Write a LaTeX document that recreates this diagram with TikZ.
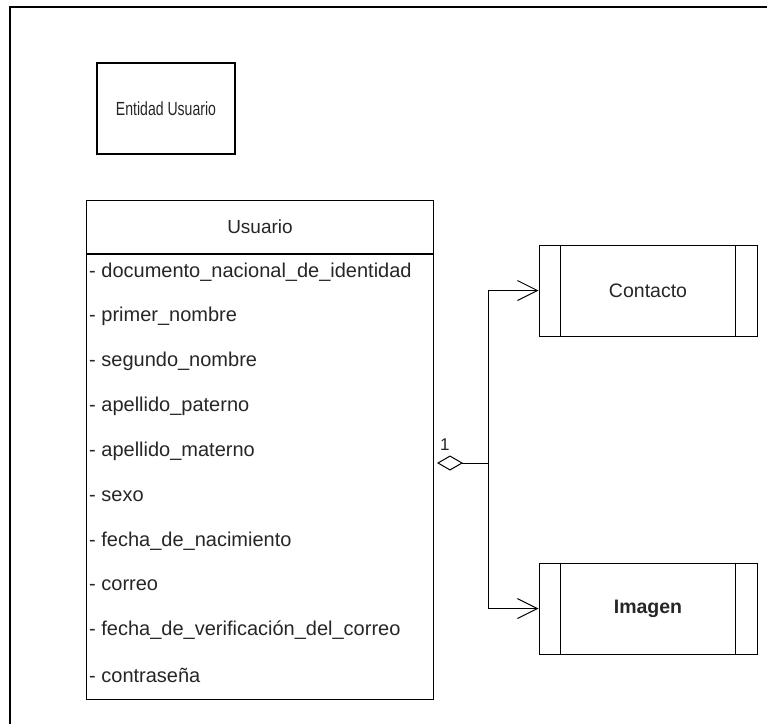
\documentclass[tikz,border=0pt]{standalone}
\usepackage{fontspec}
\setmainfont{Liberation Sans}
\usetikzlibrary{arrows.meta,positioning}

\begin{document}
\begin{tikzpicture}[x=1pt,y=-1pt, text=black!85,
	caja/.style={draw, line width=1pt, inner sep=0pt},
	atributo/.style={anchor=west, inner sep=0pt, font=\fontsize{20}{23}\selectfont},
	agregacion/.style={line width=1pt, {Diamond[open,length=26pt,width=15pt]}-},
	flecha/.style={line width=1pt, -{Straight Barb[length=20pt,width=20pt]}}]

		\useasboundingbox (0,0) rectangle (767,724);

		% marco %
		\draw[line width=1.6pt] (767,7) -- (10,7) -- (10,724);

		% entidad %
		\node[caja, line width=1.2pt, minimum width=138pt, minimum height=91pt,
			font=\fontsize{19}{22}\selectfont] (entidad) at (166,108.5)
			{\scalebox{0.74}[1]{Entidad Usuario}};

		% clase usuario %
		\node[caja, anchor=north west, minimum width=347pt, minimum height=53pt,
			font=\fontsize{19}{22}\selectfont] (usuario) at (86,200) {Usuario};
		\node[caja, anchor=north west, minimum width=347pt, minimum height=445pt]
			(cuerpo) at (usuario.south west) {};

		% atributos %
		\foreach \campo [count=\i from 0] in {documento\_nacional\_de\_identidad,
				primer\_nombre, segundo\_nombre, apellido\_paterno, apellido\_materno,
				sexo, fecha\_de\_nacimiento, correo,
				fecha\_de\_verificación\_del\_correo, contraseña}
			\node[atributo] (a\i) at (89,{272+44.8*\i}) {- \campo};

		% contacto e imagen %
		\node[caja, minimum width=218pt, minimum height=91pt,
			font=\fontsize{19.5}{23}\selectfont] (contacto) at (648,290.5) {Contacto};
		\node[caja, minimum width=218pt, minimum height=91pt,
			font=\bfseries\fontsize{19.5}{23}\selectfont] (imagen) at (648,608.5) {Imagen};
		\foreach \n in {contacto,imagen} {
			\draw[line width=1pt] ([xshift=22pt]\n.north west) -- ([xshift=22pt]\n.south west);
			\draw[line width=1pt] ([xshift=-22pt]\n.north east) -- ([xshift=-22pt]\n.south east);
		}

		% relacion %
		\coordinate (agg) at (437,463);
		\coordinate (union) at (488,463);
		\draw[agregacion] (agg) -- (union);
		\draw[flecha] (union) |- (contacto.west);
		\draw[flecha] (union) |- (imagen.west);
		\node[font=\fontsize{17}{19}\selectfont, inner sep=0pt, anchor=south west,
			above right=12pt and 3pt of agg] (mult) {1};

	\end{tikzpicture}
\end{document}
